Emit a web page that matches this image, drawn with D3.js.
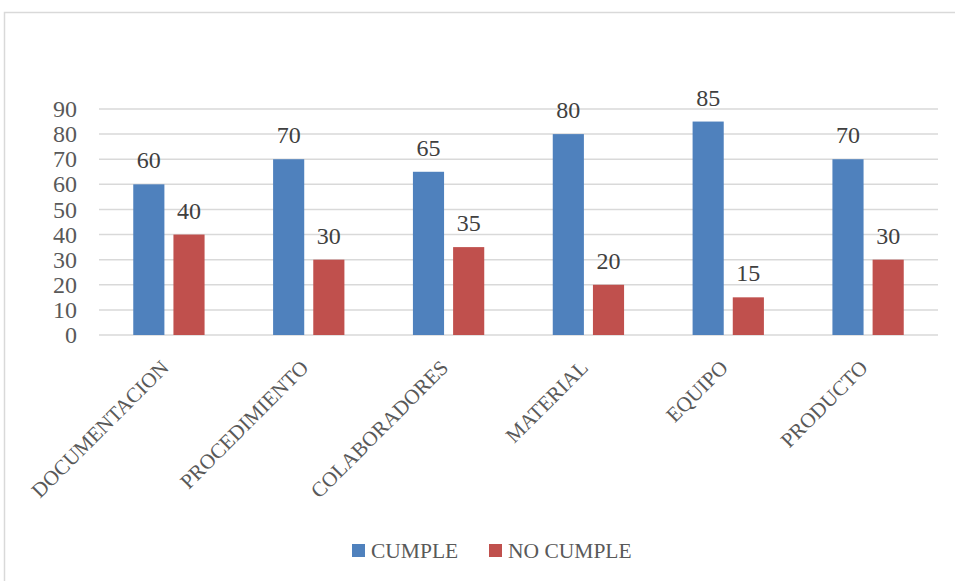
<!DOCTYPE html>
<html>
<head>
<meta charset="utf-8">
<script src="https://cdn.jsdelivr.net/npm/d3@7"></script>
<style>
  body { margin: 0; background: #fff; }
  svg { display: block; font-family: "Liberation Serif", "DejaVu Serif", serif; }
</style>
</head>
<body>
<script>
// data
let categories = ["DOCUMENTACION", "PROCEDIMIENTO", "COLABORADORES", "MATERIAL", "EQUIPO", "PRODUCTO"];
let seriesNames = ["CUMPLE", "NO CUMPLE"];
let cumple = [60, 70, 65, 80, 85, 70];
let noCumple = [40, 30, 35, 20, 15, 30];
let yTicks = [0, 10, 20, 30, 40, 50, 60, 70, 80, 90];

let colors = ["#4F81BD", "#C0504D"];
let textColor = "#595959";

let width = 955, height = 581;
let margin = { top: 109, right: 17, bottom: 246, left: 99 };

let svg = d3.select("body").append("svg")
    .attr("width", width)
    .attr("height", height);

// chart frame (only left/top visible in the picture)
svg.append("rect")
    .attr("x", 4.5).attr("y", 12.5)
    .attr("width", 970).attr("height", 600)
    .attr("fill", "none")
    .attr("stroke", "#d9d9d9")
    .attr("stroke-width", 1.5);

let x0 = d3.scaleBand()
    .domain(categories)
    .range([margin.left, width - margin.right])
    .paddingInner(0.49)
    .paddingOuter(0.245);

let x1 = d3.scaleBand()
    .domain(seriesNames)
    .range([0, x0.bandwidth()])
    .paddingInner(0.225);

let y = d3.scaleLinear()
    .domain([0, 90])
    .range([height - margin.bottom, margin.top]);

// gridlines
svg.append("g")
    .selectAll("line")
    .data(yTicks)
    .enter().append("line")
    .attr("x1", margin.left)
    .attr("x2", width - margin.right)
    .attr("y1", d => y(d))
    .attr("y2", d => y(d))
    .attr("stroke", "#d9d9d9")
    .attr("stroke-width", 1.5);

// y tick labels
svg.append("g")
    .selectAll("text")
    .data(yTicks)
    .enter().append("text")
    .attr("x", 77)
    .attr("y", d => y(d))
    .attr("dy", "0.34em")
    .attr("text-anchor", "end")
    .attr("font-size", 24)
    .attr("fill", textColor)
    .text(d => d);

let rows = categories.map((c, i) => ({ cat: c, vals: [cumple[i], noCumple[i]] }));

let groups = svg.append("g")
    .selectAll("g")
    .data(rows)
    .enter().append("g")
    .attr("transform", d => `translate(${x0(d.cat)},0)`);

groups.selectAll("rect")
    .data(d => d.vals.map((v, j) => ({ s: seriesNames[j], v: v, j: j })))
    .enter().append("rect")
    .attr("x", d => x1(d.s))
    .attr("y", d => y(d.v))
    .attr("width", x1.bandwidth())
    .attr("height", d => y(0) - y(d.v))
    .attr("fill", d => colors[d.j]);

groups.selectAll("text")
    .data(d => d.vals.map((v, j) => ({ s: seriesNames[j], v: v })))
    .enter().append("text")
    .attr("x", d => x1(d.s) + x1.bandwidth() / 2)
    .attr("y", d => y(d.v) - 16)
    .attr("text-anchor", "middle")
    .attr("font-size", 24)
    .attr("fill", "#404040")
    .text(d => d.v);

// category labels, rotated
svg.append("g")
    .selectAll("text")
    .data(categories)
    .enter().append("text")
    .attr("transform", d => `translate(${x0(d) + x0.bandwidth() / 2 + 1},${y(0) + 34}) rotate(-45)`)
    .attr("text-anchor", "end")
    .attr("font-size", 21)
    .attr("fill", textColor)
    .text(d => d);

// legend
let legendX = [352, 489];
let legend = svg.append("g")
    .selectAll("g")
    .data(seriesNames)
    .enter().append("g")
    .attr("transform", (d, i) => `translate(${legendX[i]},544)`);

legend.append("rect")
    .attr("width", 13)
    .attr("height", 13)
    .attr("fill", (d, i) => colors[i]);

legend.append("text")
    .attr("x", 19)
    .attr("y", 14)
    .attr("font-size", 21.5)
    .attr("fill", textColor)
    .text(d => d);
</script>
</body>
</html>
